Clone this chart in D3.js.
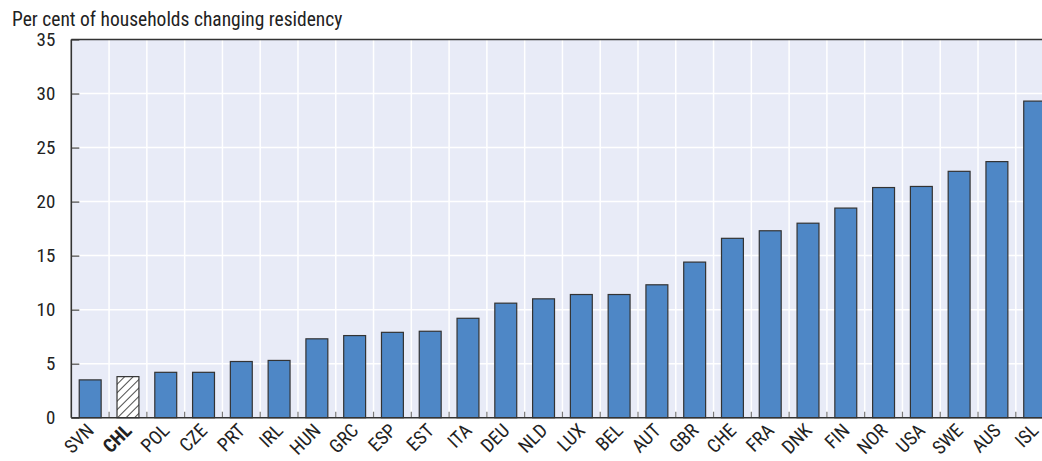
<!DOCTYPE html>
<html><head><meta charset="utf-8">
<script src="https://cdn.jsdelivr.net/npm/d3@7"></script>
<style>
body{margin:0;background:#fff;overflow:hidden}
text{font-family:"Roboto Condensed","Liberation Sans Narrow","Arial Narrow",Roboto,sans-serif;fill:#222}
</style></head><body>
<svg id="c" width="1042" height="461"></svg>
<script>
const categories=["SVN","CHL","POL","CZE","PRT","IRL","HUN","GRC","ESP","EST","ITA","DEU","NLD","LUX","BEL","AUT","GBR","CHE","FRA","DNK","FIN","NOR","USA","SWE","AUS","ISL"];
const values=[3.5,3.8,4.2,4.2,5.2,5.3,7.3,7.6,7.9,8.0,9.2,10.6,11.0,11.4,11.4,12.3,14.4,16.6,17.3,18.0,19.4,21.3,21.4,22.8,23.7,29.3];
const highlight=["CHL"];
const yTicks=[0,5,10,15,20,25,30,35];
const title="Per cent of households changing residency";

const svg=d3.select("#c");
const L=71.3, T=39.5, B=417.7, step=37.78;
const R=L+step*categories.length;
const x=d3.scaleBand().domain(categories).range([L,R]).paddingInner(0.42).paddingOuter(0.21);
const y=d3.scaleLinear().domain([0,35]).range([B,T]);

const defs=svg.append("defs");
const pat=defs.append("pattern").attr("id","hatch").attr("patternUnits","userSpaceOnUse")
  .attr("width",6).attr("height",6).attr("patternTransform","rotate(45)");
pat.append("rect").attr("width",6).attr("height",6).attr("fill","#fff");
pat.append("line").attr("x1",0).attr("y1",0).attr("x2",0).attr("y2",6).attr("stroke","#222").attr("stroke-width",1.6);

svg.append("rect").attr("x",L).attr("y",T).attr("width",R-L).attr("height",B-T).attr("fill","#e8ebf7");

// horizontal grid
svg.append("g").selectAll("line").data(yTicks.slice(1,-1)).join("line")
  .attr("x1",L).attr("x2",R).attr("y1",d=>y(d)).attr("y2",d=>y(d))
  .attr("stroke","#fff").attr("stroke-width",1.5);
// vertical grid between categories
const seps=categories.slice(1).map(c=>x(c)-x.step()*x.paddingInner()/2);
svg.append("g").selectAll("line").data(seps).join("line")
  .attr("x1",d=>d).attr("x2",d=>d).attr("y1",T).attr("y2",B)
  .attr("stroke","#fff").attr("stroke-width",1.5);
// small x ticks
svg.append("g").selectAll("line").data(seps).join("line")
  .attr("x1",d=>d).attr("x2",d=>d).attr("y1",B-6).attr("y2",B)
  .attr("stroke","#777").attr("stroke-width",1.2);

// bars
svg.append("g").selectAll("rect").data(categories).join("rect")
  .attr("x",d=>x(d)).attr("width",x.bandwidth())
  .attr("y",(d,i)=>y(values[i])).attr("height",(d,i)=>B-y(values[i]))
  .attr("fill",d=>highlight.includes(d)?"url(#hatch)":"#4e87c6")
  .attr("stroke","#333").attr("stroke-width",1.2);

// y axis
const ya=svg.append("g").attr("transform",`translate(${L},0)`)
  .call(d3.axisLeft(y).tickValues(yTicks).tickSize(-8).tickPadding(16));
ya.select(".domain").remove();
ya.selectAll("line").attr("stroke","#444").attr("stroke-width",1.2);
ya.selectAll("text").style("font-size","19px").attr("fill","#222");

// axes lines
svg.append("line").attr("x1",L).attr("x2",L).attr("y1",T).attr("y2",B).attr("stroke","#333").attr("stroke-width",1.6);
svg.append("line").attr("x1",L).attr("x2",R).attr("y1",B).attr("y2",B).attr("stroke","#333").attr("stroke-width",1.6);
svg.append("line").attr("x1",L).attr("x2",R).attr("y1",T).attr("y2",T).attr("stroke","#333").attr("stroke-width",1.6);

// x labels
svg.append("g").selectAll("text").data(categories).join("text")
  .attr("transform",d=>`translate(${x(d)+x.bandwidth()/2+5},${B+14}) rotate(-45)`)
  .attr("text-anchor","end")
  .style("font-size","19px")
  .style("font-weight",d=>highlight.includes(d)?"bold":"normal")
  .text(d=>d);

svg.append("text").attr("x",12).attr("y",25.5).style("font-size","19.5px").text(title);
</script></body></html>
